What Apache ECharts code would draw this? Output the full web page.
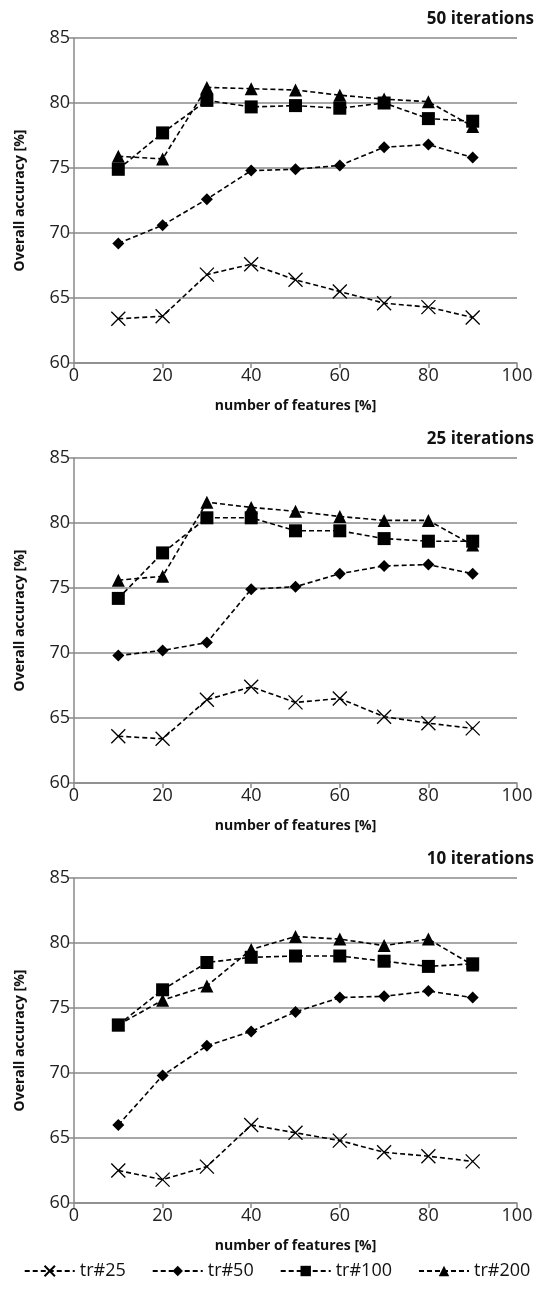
<!DOCTYPE html>
<html>
<head>
<meta charset="utf-8">
<script src="https://cdn.jsdelivr.net/npm/echarts@6/dist/echarts.min.js"></script>
<style>
html,body{margin:0;padding:0;background:#fff;}
#chart{width:554px;height:1297px;}
</style>
</head>
<body>
<div id="chart"></div>
<script>
const features = [10, 20, 30, 40, 50, 60, 70, 80, 90];
const panelTitles = ['50 iterations', '25 iterations', '10 iterations'];
const seriesNames = ['tr#25', 'tr#50', 'tr#100', 'tr#200'];
const xTicks = [0, 20, 40, 60, 80, 100];
const yTicks = [60, 65, 70, 75, 80, 85];

const it50_tr25  = [63.4, 63.6, 66.8, 67.6, 66.4, 65.5, 64.6, 64.3, 63.5];
const it50_tr50  = [69.2, 70.6, 72.6, 74.8, 74.9, 75.2, 76.6, 76.8, 75.8];
const it50_tr100 = [74.9, 77.7, 80.2, 79.7, 79.8, 79.6, 80.0, 78.8, 78.6];
const it50_tr200 = [75.9, 75.7, 81.2, 81.1, 81.0, 80.6, 80.3, 80.1, 78.2];

const it25_tr25  = [63.6, 63.4, 66.4, 67.4, 66.2, 66.5, 65.1, 64.6, 64.2];
const it25_tr50  = [69.8, 70.2, 70.8, 74.9, 75.1, 76.1, 76.7, 76.8, 76.1];
const it25_tr100 = [74.2, 77.7, 80.4, 80.4, 79.4, 79.4, 78.8, 78.6, 78.6];
const it25_tr200 = [75.6, 75.9, 81.6, 81.2, 80.9, 80.5, 80.2, 80.2, 78.3];

const it10_tr25  = [62.5, 61.8, 62.8, 66.0, 65.4, 64.8, 63.9, 63.6, 63.2];
const it10_tr50  = [66.0, 69.8, 72.1, 73.2, 74.7, 75.8, 75.9, 76.3, 75.8];
const it10_tr100 = [73.7, 76.4, 78.5, 78.9, 79.0, 79.0, 78.6, 78.2, 78.4];
const it10_tr200 = [73.7, 75.6, 76.7, 79.5, 80.5, 80.3, 79.8, 80.3, 78.3];

const panels = [
  [it50_tr25, it50_tr50, it50_tr100, it50_tr200],
  [it25_tr25, it25_tr50, it25_tr100, it25_tr200],
  [it10_tr25, it10_tr50, it10_tr100, it10_tr200]
];

const FONT = '"Open Sans", "Noto Sans", sans-serif';
const gridTops = [38, 458, 878];
const gridH = 325;
const gridLeft = 74;
const gridRight = 37;

const symbols = [
  {symbol: 'path://M0,0L10,10M10,0L0,10', size: 14, fill: 'transparent', border: 1.3},
  {symbol: 'diamond', size: 12, fill: '#000', border: 0},
  {symbol: 'rect', size: 13, fill: '#000', border: 0},
  {symbol: 'triangle', size: 13, fill: '#000', border: 0}
];

const grids = [], xAxes = [], yAxes = [], series = [], titles = [];
panels.forEach((panel, p) => {
  grids.push({left: gridLeft, right: gridRight, top: gridTops[p], height: gridH});
  titles.push({
    text: panelTitles[p], right: 15, top: gridTops[p] - 32,
    textStyle: {fontFamily: FONT, fontSize: 17, fontWeight: 'bold', color: '#111'}
  });
  xAxes.push({
    gridIndex: p, type: 'value', min: 0, max: 100, interval: 20,
    name: 'number of features [%]', nameLocation: 'middle', nameGap: 36,
    nameTextStyle: {fontFamily: FONT, fontSize: 14, fontWeight: 'bold', color: '#111'},
    axisLine: {onZero: false, lineStyle: {color: '#8a8a8a', width: 1.5}},
    axisTick: {show: true, length: 5, lineStyle: {color: '#8a8a8a', width: 1.5}},
    axisLabel: {fontFamily: FONT, fontSize: 18, color: '#222', margin: 4},
    splitLine: {show: false}
  });
  yAxes.push({
    gridIndex: p, type: 'value', min: 60, max: 85, interval: 5,
    name: 'Overall accuracy [%]', nameLocation: 'middle', nameGap: 47,
    nameTextStyle: {fontFamily: FONT, fontSize: 14, fontWeight: 'bold', color: '#111'},
    axisLine: {show: true, lineStyle: {color: '#8a8a8a', width: 1.5}},
    axisTick: {show: true, length: 5, lineStyle: {color: '#8a8a8a', width: 1.5}},
    axisLabel: {fontFamily: FONT, fontSize: 18, color: '#222', margin: 4},
    splitLine: {show: true, lineStyle: {color: '#8a8a8a', width: 1.5}}
  });
  panel.forEach((vals, s) => {
    const sym = symbols[s];
    series.push({
      name: seriesNames[s], type: 'line', xAxisIndex: p, yAxisIndex: p,
      data: features.map((f, i) => [f, vals[i]]),
      symbol: sym.symbol, symbolSize: sym.size,
      itemStyle: {color: sym.fill, borderColor: '#000', borderWidth: sym.border},
      lineStyle: {color: '#000', width: 1.6, type: [5, 3]},
      emphasis: {disabled: true},
      animation: false, z: 2 + s
    });
  });
});

const chart = echarts.init(document.getElementById('chart'), null, {renderer: 'canvas'});
chart.setOption({
  backgroundColor: '#fff',
  animation: false,
  title: titles,
  grid: grids,
  xAxis: xAxes,
  yAxis: yAxes,
  legend: {
    data: seriesNames, top: 1257, left: 'center', itemWidth: 50, itemHeight: 13, itemGap: 26,
    textStyle: {fontFamily: FONT, fontSize: 18, color: '#111'}
  },
  series: series
});
</script>
</body>
</html>
